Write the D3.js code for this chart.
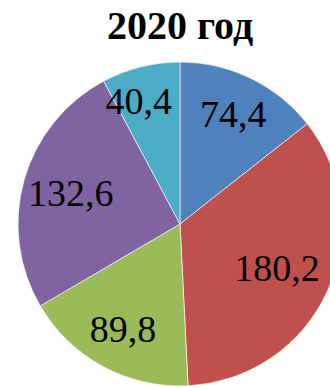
<!DOCTYPE html>
<html>
<head>
<meta charset="utf-8">
<script src="https://cdn.jsdelivr.net/npm/d3@7"></script>
<style>
  html, body { margin: 0; padding: 0; background: #fff; }
  svg { display: block; }
</style>
</head>
<body>
<svg id="chart" width="330" height="387"></svg>
<script>
// Data: five shares for 2020, drawn clockwise from 12 o'clock
const title = "2020 год";
const categories = ["A", "B", "C", "D", "E"];
const values = [74.4, 180.2, 89.8, 132.6, 40.4];
const labels = ["74,4", "180,2", "89,8", "132,6", "40,4"];
const colors = ["#4F81BD", "#C0504D", "#9BBB59", "#8064A2", "#4BACC6"];

const svg = d3.select("#chart");
const cx = 180, cy = 224, R = 162;

svg.append("text")
  .attr("x", cx)
  .attr("y", 39)
  .attr("text-anchor", "middle")
  .style("font-family", "'Liberation Serif', 'Times New Roman', serif")
  .style("font-weight", "bold")
  .style("font-size", "40px")
  .text(title);

const rows = categories.map((c, i) => ({ cat: c, value: values[i], label: labels[i], color: colors[i] }));
const pie = d3.pie().value(d => d.value).sort(null);
const arcs = pie(rows);
const arc = d3.arc().innerRadius(0).outerRadius(R);

const g = svg.append("g").attr("transform", `translate(${cx},${cy})`);

g.selectAll("path.slice")
  .data(arcs)
  .join("path")
  .attr("class", "slice")
  .attr("d", arc)
  .attr("fill", d => d.data.color)
  .attr("stroke", "#ffffff")
  .attr("stroke-width", 0.8)
  .attr("stroke-opacity", 0.8);

// Labels sit on the slice bisector; narrow slices push the label further out,
// then the label slides sideways if it would cross a slice edge.
const fontSize = 38;
const txt = g.selectAll("text.lbl")
  .data(arcs)
  .join("text")
  .attr("class", "lbl")
  .attr("text-anchor", "middle")
  .style("font-family", "'Liberation Serif', 'Times New Roman', serif")
  .style("font-size", fontSize + "px")
  .style("fill", "#000")
  .text(d => d.data.label);

// signed distance of point p from the ray at angle a (negative = counter-clockwise side)
const side = (a, px, py) => Math.sin(a) * py + Math.cos(a) * px;

txt.each(function(d) {
  const w = this.getComputedTextLength();
  const h = fontSize * 0.68;
  const mid = (d.startAngle + d.endAngle) / 2;
  const span = (d.endAngle - d.startAngle) * 180 / Math.PI;
  const r = R * (0.82 - 0.0013 * span);
  let x = r * Math.sin(mid);
  const y = -r * Math.cos(mid);
  const gap = 8;
  // right end must stay on the counter-clockwise side of the end edge
  const endViol = side(d.endAngle, x + w / 2, y) + gap;
  // left end must stay on the clockwise side of the start edge
  const startViol = gap - side(d.startAngle, x - w / 2, y);
  const ce = Math.cos(d.endAngle), cs = Math.cos(d.startAngle);
  if (endViol > 0 && Math.abs(ce) > 0.3) x -= endViol / ce;
  else if (startViol > 0 && Math.abs(cs) > 0.3) x += startViol / cs;
  d3.select(this).attr("x", x).attr("y", y + h / 2);
});
</script>
</body>
</html>
